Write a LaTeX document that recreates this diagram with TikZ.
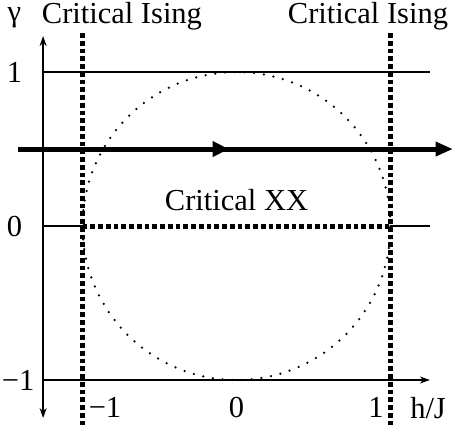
\documentclass[tikz,border=0pt]{standalone}
\usepackage{fontspec}
\setmainfont{Liberation Serif}
\usetikzlibrary{arrows.meta}

\begin{document}
\begin{tikzpicture}[x=61.6pt,y=61.6pt,font=\fontsize{12.2}{14}\selectfont,
>={Stealth[length=4pt,width=2.8pt]},
axis/.style={line width=0.8pt},
crit/.style={line width=2pt,dash pattern=on 1.9pt off 1.2pt},
flow/.style={line width=2pt},
unit/.style={line width=1pt,line cap=round,dash pattern=on 0pt off 3.9pt}]
\useasboundingbox (-1.536,-1.299) rectangle (1.406,1.468);
% unit circle
\coordinate (o) at (0,0);
\draw[unit] (o) circle (1);
% axes and lines of constant gamma
\coordinate (ytop) at (-1.256,1.234);
\coordinate (ybot) at (-1.256,-1.247);
\coordinate (a1) at (-1.256,1);
\coordinate (b1) at (1.256,1);
\coordinate (a0) at (-1.256,0);
\coordinate (b0) at (1.256,0);
\coordinate (am) at (-1.256,-1);
\coordinate (bm) at (1.256,-1);
\coordinate (xxl) at (-1,0);
\coordinate (xxr) at (1,0);
\draw[axis,<->] (ybot)--(ytop);
\draw[axis] (a1)--(b1);
\draw[axis] (a0)--(xxl);
\draw[axis] (xxr)--(b0);
\draw[axis,->] (am)--(bm);
% critical lines
\coordinate (isl-t) at (-1,1.253);
\coordinate (isl-b) at (-1,-1.299);
\coordinate (isr-t) at (1,1.253);
\coordinate (isr-b) at (1,-1.299);
\draw[crit] (isl-t)--(isl-b);
\draw[crit] (isr-t)--(isr-b);
\draw[crit] (xxl)--(xxr);
% thick flow line
\coordinate (fl) at (-1.419,0.5);
\coordinate (fm) at (-0.05,0.5);
\coordinate (fr) at (1.406,0.5);
\draw[flow,-{Triangle[length=7pt,width=5.5pt]}] (fl)--(fr);
\draw[flow,-{Triangle[length=6.5pt,width=6pt]}] (fl)--(fm);
% labels
\node (gam) at (-1.442,1.351) {γ};
\node (g1) at (-1.442,1) {1};
\node (g0) at (-1.442,0) {0};
\node[anchor=east] (gm) at (-1.256,-1) {−1};
\node (hm) at (-0.854,-1.18) {−1};
\node (h0) at (0,-1.18) {0};
\node (h1) at (0.906,-1.18) {1};
\node (hJ) at (1.244,-1.18) {h/J};
\node (isl) at (-0.744,1.364) {Critical Ising};
\node (isr) at (0.854,1.364) {Critical Ising};
\node (xx) at (0,0.169) {Critical XX};
\end{tikzpicture}
\end{document}
